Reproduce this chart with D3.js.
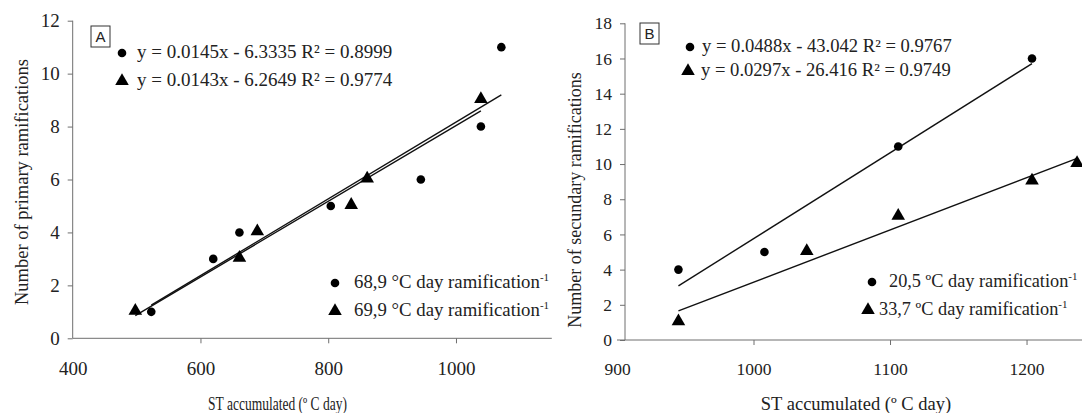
<!DOCTYPE html>
<html><head><meta charset="utf-8">
<script src="https://cdn.jsdelivr.net/npm/d3@7"></script>
<style>
html,body{margin:0;padding:0;background:#fff;}
svg text{font-family:"Liberation Serif","Times New Roman",serif;fill:#222;}
svg text.sans{font-family:"Liberation Sans",Arial,sans-serif;}
</style></head>
<body><svg id="c" width="1082" height="413"></svg>
<script>
// Panel A data
const aCircleX = [523, 620, 661, 804, 945, 1039, 1071];
const aCircleY = [1, 3, 4, 5, 6, 8, 11];
const aTriX = [498, 661, 689, 836, 861, 1039];
const aTriY = [1, 3, 4, 5, 6, 9];
const aFits = [[0.0145, -6.3335], [0.0143, -6.2649]];
const aEq = ["y = 0.0145x - 6.3335 R² = 0.8999", "y = 0.0143x - 6.2649 R² = 0.9774"];
const aLegend = ["68,9 °C day ramification", "69,9 °C day ramification"];
const aXTicks = [400, 600, 800, 1000];
const aYTicks = [0, 2, 4, 6, 8, 10, 12];
// Panel B data
const bCircleX = [945, 1008, 1106, 1204];
const bCircleY = [4, 5, 11, 16];
const bTriX = [945, 1039, 1106, 1204, 1237];
const bTriY = [1, 5, 7, 9, 10];
const bFits = [[0.0488, -43.042], [0.0297, -26.416]];
const bEq = ["y = 0.0488x - 43.042 R² = 0.9767", "y = 0.0297x - 26.416 R² = 0.9749"];
const bLegend = ["20,5 ºC day ramification", "33,7 ºC day ramification"];
const bXTicks = [900, 1000, 1100, 1200];
const bYTicks = [0, 2, 4, 6, 8, 10, 12, 14, 16, 18];

const svg = d3.select("#c");
const axisColor = "#6e6e6e";

function panel(cfg){
  const g = svg.append("g");
  const x = d3.scaleLinear().domain(cfg.xDom).range(cfg.xRange);
  const y = d3.scaleLinear().domain(cfg.yDom).range(cfg.yRange);
  // x axis
  const xa = g.append("g").attr("transform", `translate(0,${cfg.yRange[0]})`)
    .call(d3.axisBottom(x).tickValues(cfg.xTicks).tickSize(5).tickPadding(18).tickFormat(d3.format("d")));
  xa.select(".domain").attr("stroke", axisColor).attr("d", `M${cfg.xRange[0]},0H${cfg.xRange[1]}`);
  xa.selectAll(".tick line").attr("stroke", axisColor);
  xa.selectAll(".tick").filter(d => d === cfg.xDom[0]).select("line").remove();
  xa.selectAll("text").style("font-size", cfg.tickSize + "px");
  // y axis
  const ya = g.append("g").attr("transform", `translate(${cfg.yAxisX},0)`)
    .call(d3.axisLeft(y).tickValues(cfg.yTicks).tickSize(5).tickPadding(8));
  ya.select(".domain").attr("stroke", axisColor).attr("d", `M0,${cfg.yRange[0]}V${cfg.yRange[1]}`);
  ya.selectAll(".tick line").attr("stroke", axisColor);
  ya.selectAll("text").style("font-size", cfg.tickSize + "px");
  // fit lines
  const series = [[cfg.cx, cfg.cy], [cfg.tx, cfg.ty]];
  cfg.fits.forEach((f, i) => {
    const xs = series[i][0];
    const x0 = d3.min(xs), x1 = d3.max(xs);
    g.append("line")
      .attr("x1", x(x0)).attr("y1", y(f[0]*x0 + f[1]))
      .attr("x2", x(x1)).attr("y2", y(f[0]*x1 + f[1]))
      .attr("stroke", "#111").attr("stroke-width", 1.4);
  });
  const circ = d3.symbol().type(d3.symbolCircle).size(58);
  const tri = d3.symbol().type(d3.symbolTriangle).size(80);
  g.selectAll(".pc").data(d3.zip(cfg.cx, cfg.cy)).join("path")
    .attr("d", circ).attr("transform", d => `translate(${x(d[0])},${y(d[1])})`).attr("fill", "#000");
  g.selectAll(".pt").data(d3.zip(cfg.tx, cfg.ty)).join("path")
    .attr("d", tri).attr("transform", d => `translate(${x(d[0])},${y(d[1]) - 1})`).attr("fill", "#000");
  // axis titles
  const xt = g.append("text").attr("x", cfg.xTitleX).attr("y", cfg.xTitleY).attr("text-anchor", "middle")
    .style("font-size", cfg.xTitleSize + "px").text("ST accumulated (º C day)");
  if (cfg.xTitleLen) xt.attr("textLength", cfg.xTitleLen).attr("lengthAdjust", "spacingAndGlyphs");
  g.append("text").attr("transform", `translate(${cfg.yTitleX},${cfg.yTitleY}) rotate(-90)`)
    .attr("text-anchor", "middle").style("font-size", cfg.yTitleSize + "px").text(cfg.yTitle);
  // panel letter box
  g.append("rect").attr("x", cfg.box[0]).attr("y", cfg.box[1]).attr("width", 19).attr("height", 21)
    .attr("fill", "none").attr("stroke", "#333").attr("stroke-width", 1);
  g.append("text").attr("class", "sans").attr("x", cfg.box[0] + 9.5).attr("y", cfg.box[1] + 16)
    .attr("text-anchor", "middle").style("font-size", "15px").text(cfg.letter);
  // equation legend
  cfg.eq.forEach((t, i) => {
    const yy = cfg.eqY[i];
    g.append("path").attr("d", i === 0 ? circ : tri)
      .attr("transform", `translate(${cfg.eqMarkX[i]},${yy - 5})`).attr("fill", "#000");
    g.append("text").attr("x", cfg.eqTextX[i]).attr("y", yy).style("font-size", cfg.eqSize + "px").text(t);
  });
  // bottom legend
  cfg.leg.forEach((t, i) => {
    const yy = cfg.legY[i];
    g.append("path").attr("d", i === 0 ? circ : tri)
      .attr("transform", `translate(${cfg.legMarkX[i]},${yy - 5})`).attr("fill", "#000");
    const tx = g.append("text").attr("x", cfg.legTextX[i]).attr("y", yy).style("font-size", cfg.legSize + "px");
    tx.append("tspan").text(t);
    tx.append("tspan").attr("dy", -7).style("font-size", "11px").text("-1");
  });
}

panel({
  xDom: [400, 1150], xRange: [72.7, 551.8], yDom: [0, 12], yRange: [338.3, 20.7], yAxisX: 72.7,
  xTicks: aXTicks, yTicks: aYTicks, cx: aCircleX, cy: aCircleY, tx: aTriX, ty: aTriY, fits: aFits,
  tickSize: 19,
  xTitleX: 277.5, xTitleY: 410, xTitleSize: 18.5, xTitleLen: 139,
  yTitleX: 28, yTitleY: 182, yTitleSize: 18.5, yTitle: "Number of primary ramifications",
  box: [91, 26], letter: "A",
  eq: aEq, eqY: [58, 86], eqMarkX: [122, 122], eqTextX: [137, 137], eqSize: 19,
  leg: aLegend, legY: [288, 316], legMarkX: [335, 335], legTextX: [354, 354], legSize: 18.8
});
panel({
  xDom: [900, 1250], xRange: [617, 1094.8], yDom: [0, 18], yRange: [340, 23.3], yAxisX: 625,
  xTicks: bXTicks, yTicks: bYTicks, cx: bCircleX, cy: bCircleY, tx: bTriX, ty: bTriY, fits: bFits,
  tickSize: 17.5,
  xTitleX: 856, xTitleY: 410, xTitleSize: 18.5, xTitleLen: 0,
  yTitleX: 581, yTitleY: 200, yTitleSize: 18, yTitle: "Number of secundary ramifications",
  box: [640, 23], letter: "B",
  eq: bEq, eqY: [52, 76], eqMarkX: [690, 688], eqTextX: [702, 701], eqSize: 18.6,
  leg: bLegend, legY: [287, 315], legMarkX: [872, 868], legTextX: [889, 879], legSize: 18.3
});
</script></body></html>
